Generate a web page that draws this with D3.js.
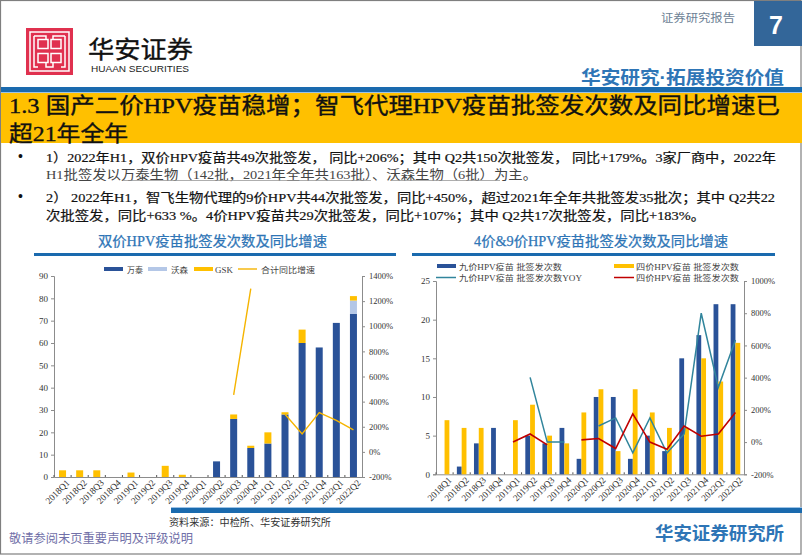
<!DOCTYPE html>
<html><head><meta charset="utf-8">
<script src="https://cdn.jsdelivr.net/npm/d3@7/dist/d3.min.js"></script>
<style>
html,body{margin:0;padding:0;background:#fff}
svg{display:block}
text{font-family:"Liberation Serif","Noto Sans CJK SC",serif}
.sans{font-family:"Liberation Sans","Noto Sans CJK SC",sans-serif}
</style></head><body>
<svg id="s" width="802" height="555"></svg>
<script>
const quarters=["2018Q1","2018Q2","2018Q3","2018Q4","2019Q1","2019Q2","2019Q3","2019Q4","2020Q1","2020Q2","2020Q3","2020Q4","2021Q1","2021Q2","2021Q3","2021Q4","2022Q1","2022Q2"];
// left chart
const wantai=[0,0,0,0,0,0,0,0,0,7,26,13,15,28,60,58,69,73];
const walvax=[0,0,0,0,0,0,0,0,0,0,0,0,0,0,0,0,0,6];
const gsk=[3,3,3,0,2,0,5,1,0,0,2,1,5,1,6,0,0,2];
const totalYoy=[null,null,null,null,null,null,null,null,null,null,453,1300,null,300,143,312,250,175];
const leftTicks=[0,10,20,30,40,50,60,70,80,90];
const leftPct=[-200,0,200,400,600,800,1000,1200,1400];
// right chart
const nine=[0,1,4,6,0,5,4,6,2,10,10,2,5,3,15,18,22,22];
const four=[7,6,6,0,7,9,5,4,8,11,3,11,8,6,6,15,12,17];
const nineYoy=[null,null,null,null,null,402,0,0,null,100,150,-66,150,-68,50,800,340,633];
const fourYoy=[null,null,null,null,0,50,-17,null,14,22,-40,175,0,-45,100,36,50,183];
const rightTicks=[0,5,10,15,20,25];
const rightPct=[-200,0,200,400,600,800,1000];
// text
const titleLines=["1.3 国产二价HPV疫苗稳增；智飞代理HPV疫苗批签发次数及同比增速已","超21年全年"];
const bullets=[
 ["1）2022年H1，双价HPV疫苗共49次批签发， 同比+206%；其中 Q2共150次批签发， 同比+179%。3家厂商中，2022年","H1批签发以万泰生物（142批，2021年全年共163批）、沃森生物（6批）为主。"],
 ["2） 2022年H1，智飞生物代理的9价HPV共44次批签发，同比+450%，超过2021年全年共批签发35批次；其中 Q2共22","次批签发，同比+633 %。4价HPV疫苗共29次批签发，同比+107%；其中 Q2共17次批签发，同比+183%。"]];

const NAVY="#2A5298",LIGHT="#B4C7E7",GOLD="#FFC000",TEAL="#31859C",RED="#C00000",BLUE="#1A6AAE";
const svg=d3.select("#s");
const txt=(x,y,t,size,fill,o={})=>svg.append("text").attr("x",x).attr("y",y).text(t)
  .attr("font-size",size).attr("fill",fill).attr("text-anchor",o.a||"start")
  .attr("font-weight",o.w||"normal").attr("class",o.c||null)
  .attr("stroke",o.s?fill:null).attr("stroke-width",o.s||null)
  .attr("textLength",o.l||null).attr("lengthAdjust",o.l?"spacingAndGlyphs":null);
const rect=(x,y,w,h,f)=>svg.append("rect").attr("x",x).attr("y",y).attr("width",w).attr("height",h).attr("fill",f);

// frame
svg.append("rect").attr("x",.5).attr("y",.5).attr("width",800.5).attr("height",553.5).attr("fill","#fff").attr("stroke","#7f7f7f").attr("stroke-width",1.2);

// header
rect(754,1,48,45,"#336699");
txt(776,34,"7",25,"#fff",{a:"middle",w:"bold",c:"sans"});
txt(661,22,"证券研究报告",11.5,"#6d7f95",{c:"sans",l:74});
txt(581,84,"华安研究·拓展投资价值",18,"#2E75B6",{w:"bold",c:"sans",l:203});

// logo
rect(26,28,47,47,"#E0314F");
const lg=svg.append("g").attr("fill","none").attr("stroke","#fff").attr("stroke-width",1.5);
lg.append("rect").attr("x",30).attr("y",32).attr("width",39).attr("height",39);
lg.append("rect").attr("x",38).attr("y",39.5).attr("width",10).attr("height",9);
lg.append("rect").attr("x",51).attr("y",39.5).attr("width",10).attr("height",9);
lg.append("rect").attr("x",38).attr("y",53.5).attr("width",10).attr("height",9);
lg.append("rect").attr("x",51).attr("y",53.5).attr("width",10).attr("height",9);
lg.append("path").attr("d","M34 36V67H38M65 36V67H61M34 36H46V39.5M65 36H53V39.5M46 62.5V67H53V62.5");
txt(88,58,"华安证券",24,"#111",{c:"sans",s:.35,l:105});
txt(91,72,"HUAAN SECURITIES",9.5,"#222",{c:"sans",l:98});

// bands under header
rect(1,87,801,5,BLUE);
rect(1,92,801,1,"#9DC3E6");
rect(1,93,801,50,GOLD);
titleLines.forEach((t,i)=>txt(9,113+i*28,t,22,"#111",{s:.35,l:i==0?771:119}));

// bullets
const bulletY=[[162,179],[202,220]];
const bulletLen=[[730,491],[729,659]];
bullets.forEach((b,i)=>{
  txt(18,bulletY[i][0]-1,"•",14,"#111",{w:"bold"});
  b.forEach((l,j)=>{
    const soft=i==0&&j==1;
    txt(46,bulletY[i][j],l,13,soft?"#444":"#111",{s:soft?null:.2,l:bulletLen[i][j]});
  });
});
svg.append("path").attr("d","M123 180.5H371M391 180.5H500").attr("stroke","#999").attr("stroke-width",.8).attr("fill","none");

// chart section titles
txt(98,246,"双价HPV疫苗批签发次数及同比增速",14,"#2E75B6",{s:.25,l:229});
txt(474,246,"4价&9价HPV疫苗批签发次数及同比增速",14,"#2E75B6",{s:.25,l:254});
rect(34,253,362,3,BLUE);
rect(412,253,363,3,BLUE);

// footer
rect(171,507,631,1,"#9DC3E6");
rect(171,508,631,5,BLUE);
txt(169,526,"资料来源：中检所、华安证券研究所",10,"#333",{l:162});
txt(9,543,"敬请参阅末页重要声明及评级说明",12.5,"#7170A8",{l:184,c:"sans"});
txt(655,540,"华安证券研究所",18,"#2E75B6",{w:"bold",c:"sans",l:129});

function axes(g,x,yL,yR,lt,rt,x0,x1,yb){
  const col="#8c8c8c";
  const al=d3.axisLeft(yL).tickValues(lt).tickSize(3).tickPadding(3);
  const ar=d3.axisRight(yR).tickValues(rt).tickSize(3).tickPadding(4).tickFormat(d=>d+"%");
  const ab=d3.axisBottom(x).tickSize(0).tickPadding(4);
  const gl=g.append("g").attr("transform",`translate(${x0},0)`).call(al);
  const gr=g.append("g").attr("transform",`translate(${x1},0)`).call(ar);
  const gb=g.append("g").attr("transform",`translate(0,${yb})`).call(ab);
  [gl,gr,gb].forEach(a=>{a.selectAll(".domain,line").attr("stroke",col);a.selectAll("text").attr("font-family","Liberation Serif").attr("fill","#333");});
  gl.selectAll("text").attr("font-size",9);gr.selectAll("text").attr("font-size",8.5);
  gb.selectAll("text").attr("font-size",9.3).attr("text-anchor","end").attr("dx","1").attr("dy","6")
    .attr("transform","rotate(-45)").attr("y",4).attr("x",0);
  g.append("g").selectAll("line").data(x.domain()).join("line")
    .attr("x1",d=>x(d)).attr("x2",d=>x(d)).attr("y1",yb).attr("y2",yb-2).attr("stroke","#555");
}

// LEFT
(function(){
  const g=svg.append("g");
  const x0=54,x1=362,yb=477,yt=276;
  const x=d3.scaleBand().domain(quarters).range([x0,x1]);
  const y=d3.scaleLinear().domain([0,90]).range([yb,yt]);
  const yr=d3.scaleLinear().domain([-200,1400]).range([yb,yt]);
  axes(g,x,y,yr,leftTicks,leftPct,x0,x1,yb);
  const rows=quarters.map((q,i)=>({q,wantai:wantai[i],walvax:walvax[i],gsk:gsk[i]}));
  const st=d3.stack().keys(["wantai","walvax","gsk"])(rows);
  const cols={wantai:NAVY,walvax:LIGHT,gsk:GOLD};
  const bw=7;
  g.selectAll("g.s").data(st).join("g").attr("class","s").attr("fill",d=>cols[d.key])
    .selectAll("rect").data(d=>d).join("rect")
    .attr("x",d=>x(d.data.q)+x.bandwidth()/2-bw/2).attr("width",bw)
    .attr("y",d=>y(d[1])).attr("height",d=>y(d[0])-y(d[1]));
  const line=d3.line().defined(d=>d.v!==null).x(d=>x(d.q)+x.bandwidth()/2).y(d=>yr(d.v));
  g.append("path").attr("d",line(quarters.map((q,i)=>({q,v:totalYoy[i]})))).attr("fill","none").attr("stroke","#F5B400").attr("stroke-width",1.4);
  const names=["万泰","沃森","GSK","合计同比增速"];
  const ly=269;
  [[104,NAVY],[148,LIGHT],[194,GOLD]].forEach(([xx,c])=>rect(xx,ly-2,19,4,c));
  svg.append("line").attr("x1",238).attr("x2",257).attr("y1",ly).attr("y2",ly).attr("stroke","#F5B400").attr("stroke-width",1.4);
  [[127,16],[171,17],[215,18],[261,54]].forEach(([xx,l],i)=>txt(xx,ly+4,names[i],8.5,"#444",{l}));
})();

// RIGHT
(function(){
  const g=svg.append("g");
  const x0=436,x1=744,yb=474.3,yt=281;
  const x=d3.scaleBand().domain(quarters).range([x0,x1]);
  const y=d3.scaleLinear().domain([0,25]).range([yb,yt]);
  const yr=d3.scaleLinear().domain([-200,1000]).range([yb,yt]);
  axes(g,x,y,yr,rightTicks,rightPct,x0,x1,yb);
  const bw=4.8;
  const bars=(vals,c,off)=>g.append("g").attr("fill",c).selectAll("rect").data(quarters).join("rect")
    .attr("x",q=>x(q)+x.bandwidth()/2+off).attr("width",bw)
    .attr("y",(q,i)=>y(vals[i])).attr("height",(q,i)=>yb-y(vals[i]));
  bars(nine,NAVY,-bw);
  bars(four,GOLD,0);
  const line=d3.line().defined(d=>d.v!==null).x(d=>x(d.q)+x.bandwidth()/2).y(d=>yr(d.v));
  g.append("path").attr("d",line(quarters.map((q,i)=>({q,v:nineYoy[i]})))).attr("fill","none").attr("stroke",TEAL).attr("stroke-width",1.5);
  g.append("path").attr("d",line(quarters.map((q,i)=>({q,v:fourYoy[i]})))).attr("fill","none").attr("stroke",RED).attr("stroke-width",1.6);
  rect(437,264,19,4,NAVY);
  rect(614,264,20,4,GOLD);
  svg.append("line").attr("x1",436).attr("x2",456).attr("y1",277.5).attr("y2",277.5).attr("stroke",TEAL).attr("stroke-width",1.5);
  svg.append("line").attr("x1",614).attr("x2",634).attr("y1",277.5).attr("y2",277.5).attr("stroke",RED).attr("stroke-width",1.5);
  txt(459,270,"九价HPV疫苗 批签发次数",8.5,"#444",{l:103});
  txt(459,281,"九价HPV疫苗 批签发次数YOY",8.5,"#444",{l:123});
  txt(636,270,"四价HPV疫苗 批签发次数",8.5,"#444",{l:103});
  txt(636,281,"四价HPV疫苗 批签发次数",8.5,"#444",{l:103});
})();
</script></body></html>
